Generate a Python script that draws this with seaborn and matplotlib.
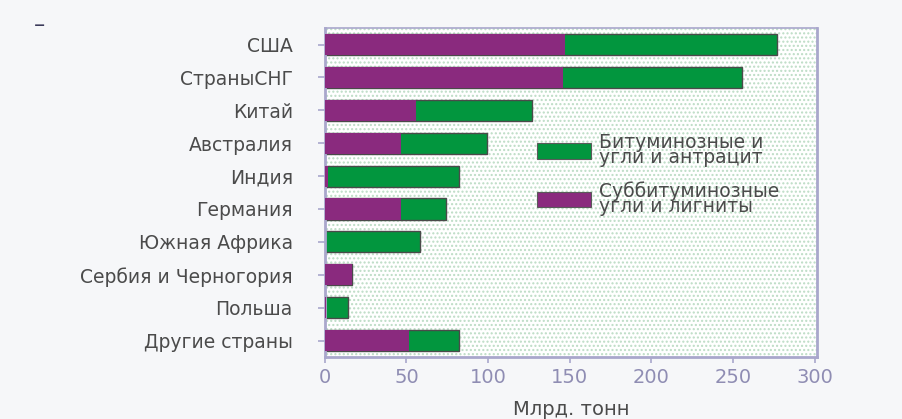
import matplotlib
matplotlib.use("Agg")
import matplotlib.pyplot as plt
import matplotlib.patches as mpatches
import numpy as np
import pandas as pd
import seaborn as sns

# Coal reserves by country, billions of tonnes
countries = ["США", "СтраныСНГ", "Китай", "Австралия", "Индия", "Германия",
             "Южная Африка", "Сербия и Черногория", "Польша", "Другие страны"]
subbituminous = [147, 146, 56, 46.5, 2, 46.5, 0, 16.5, 1, 51.5]
bituminous = [130, 109.5, 71, 53, 80, 27.5, 58.5, 0, 13.5, 30.5]
x_ticks = [0, 50, 100, 150, 200, 250, 300]
x_label = "Млрд. тонн"
legend_labels = ["Битуминозные и\nугли и антрацит", "Суббитуминозные\nугли и лигниты"]

GREEN = "#02963e"
PURPLE = "#8a2a7e"
FRAME = "#a9a7cc"

df = pd.DataFrame({
    "country": countries,
    "sub": subbituminous,
    "total": np.array(subbituminous) + np.array(bituminous),
})

sns.set_theme(style="white")
plt.rcParams["font.family"] = ["DejaVu Sans"]

fig = plt.figure(figsize=(9.02, 4.19), dpi=100, facecolor="#f6f7f9")
ax = fig.add_axes([0.360, 0.148, 0.546, 0.785])
ax.set_facecolor("white")

# stippled background of the plotting area
ax.add_patch(mpatches.Rectangle((0, 0), 1, 1, transform=ax.transAxes,
                                facecolor="none", edgecolor="#bcdcc5",
                                hatch="....", linewidth=0, zorder=0))

sns.barplot(data=df, y="country", x="total", orient="h", color=GREEN,
            width=0.64, edgecolor="#4a4a4a", linewidth=1.0,
            saturation=1, ax=ax, zorder=2)
sns.barplot(data=df, y="country", x="sub", orient="h", color=PURPLE,
            width=0.64, edgecolor="none", linewidth=0,
            saturation=1, ax=ax, zorder=3)

ax.set_xlim(0, 301.5)
ax.set_ylim(9.5, -0.5)
ax.set_xticks(x_ticks)
ax.set_xticklabels([str(t) for t in x_ticks], fontsize=14, color="#8f8db3")
ax.set_yticks(range(len(countries)))
ax.set_yticklabels(countries, fontsize=13.5, color="#4b4b4b")
ax.set_ylabel("")
ax.set_xlabel(x_label, fontsize=14, color="#4b4b4b", labelpad=9)

for s in ax.spines.values():
    s.set_visible(True)
    s.set_color(FRAME)
    s.set_linewidth(2)
ax.spines["top"].set_linewidth(1.2)

ax.tick_params(axis="y", which="both", left=True, length=5, width=1.2,
               color=FRAME, pad=18)
ax.tick_params(axis="x", which="both", bottom=True, length=4, width=1.2,
               color=FRAME, pad=4)

handles = [mpatches.Patch(facecolor=GREEN, edgecolor="#5a5a5a", linewidth=0.8),
           mpatches.Patch(facecolor=PURPLE, edgecolor="#5a5a5a", linewidth=0.8)]
leg = ax.legend(handles, legend_labels, loc="upper left",
                bbox_to_anchor=(0.397, 0.733), frameon=False,
                fontsize=13.5, handlelength=2.9, handleheight=0.9,
                handletextpad=0.4, labelspacing=0.75)
for t in leg.get_texts():
    t.set_color("#4b4b4b")
    t.set_linespacing(0.75)

fig.text(0.038, 0.925, "–", fontsize=16, color="#3a3a5a")

fig.savefig("out.png", dpi=100, facecolor=fig.get_facecolor())
